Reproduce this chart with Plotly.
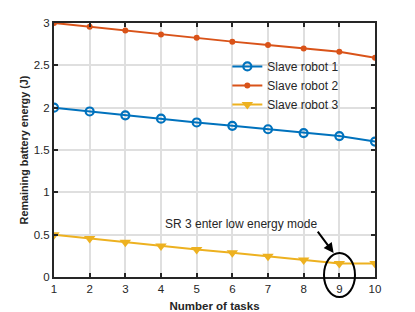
import plotly.graph_objects as go

tasks = [1, 2, 3, 4, 5, 6, 7, 8, 9, 10]
robot1 = [2.0, 1.955, 1.91, 1.87, 1.825, 1.785, 1.745, 1.70, 1.665, 1.60]
robot2 = [3.0, 2.955, 2.91, 2.865, 2.825, 2.78, 2.74, 2.70, 2.66, 2.59]
robot3 = [0.5, 0.455, 0.41, 0.365, 0.325, 0.285, 0.245, 0.20, 0.16, 0.16]
yticks = [0, 0.5, 1, 1.5, 2, 2.5, 3]
ytick_text = ["0", "0.5", "1", "1.5", "2", "2.5", "3"]

FONT = "Liberation Sans, Arial, sans-serif"

fig = go.Figure()
fig.add_trace(go.Scatter(x=tasks, y=robot1, mode="lines+markers", name="Slave robot 1",
                         line=dict(color="#0072BD", width=2),
                         marker=dict(symbol="circle-open", size=8, color="#0072BD", line=dict(width=2.2))))
fig.add_trace(go.Scatter(x=tasks, y=robot2, mode="lines+markers", name="Slave robot 2",
                         line=dict(color="#D95319", width=2),
                         marker=dict(symbol="circle", size=6, color="#D95319")))
fig.add_trace(go.Scatter(x=tasks, y=robot3, mode="lines+markers", name="Slave robot 3",
                         line=dict(color="#EDB120", width=2),
                         marker=dict(symbol="triangle-down", size=10, color="#EDB120")))

axis_common = dict(showline=True, linecolor="#262626", linewidth=2, mirror="ticks",
                   ticks="inside", ticklen=4, tickwidth=1.5, tickcolor="#262626",
                   showgrid=True, gridcolor="#DFDFDF", gridwidth=1.5, zeroline=False,
                   automargin=False,
                   tickfont=dict(family=FONT, size=11.5, color="#262626"))

fig.update_xaxes(range=[1, 10], tickvals=tasks, title=dict(text="<b>Number of tasks</b>", standoff=8,
                 font=dict(family=FONT, size=11.5, color="#262626")), **axis_common)
fig.update_yaxes(range=[0, 3], tickvals=yticks, ticktext=ytick_text,
                 title=dict(text="<b>Remaining battery energy (J)</b>", standoff=3,
                            font=dict(family=FONT, size=10.8, color="#262626")), **axis_common)

fig.add_annotation(x=6.23, y=0.63, text="SR 3 enter low energy mode", showarrow=False,
                   font=dict(family=FONT, size=12, color="#262626"))
fig.add_annotation(x=8.84, y=0.283, ax=-17, ay=-23, text="", showarrow=True,
                   arrowhead=2, arrowsize=1, arrowwidth=2, arrowcolor="black")

fig.add_shape(type="circle", xref="paper", yref="paper",
              x0=(324 - 54) / 321, x1=(355 - 54) / 321,
              y0=(277 - 297) / 254, y1=(277 - 253) / 254,
              line=dict(color="black", width=2))

fig.update_layout(
    width=407, height=304,
    margin=dict(l=46, r=40, t=15, b=35),
    paper_bgcolor="white", plot_bgcolor="white",
    font=dict(family=FONT, color="#262626"),
    legend=dict(x=0.54, y=0.886, xanchor="left", yanchor="top",
                bgcolor="rgba(255,255,255,0)", font=dict(family=FONT, size=12, color="#262626"),
                tracegroupgap=0, itemwidth=30),
    showlegend=True,
)

fig.write_html("out.html")
